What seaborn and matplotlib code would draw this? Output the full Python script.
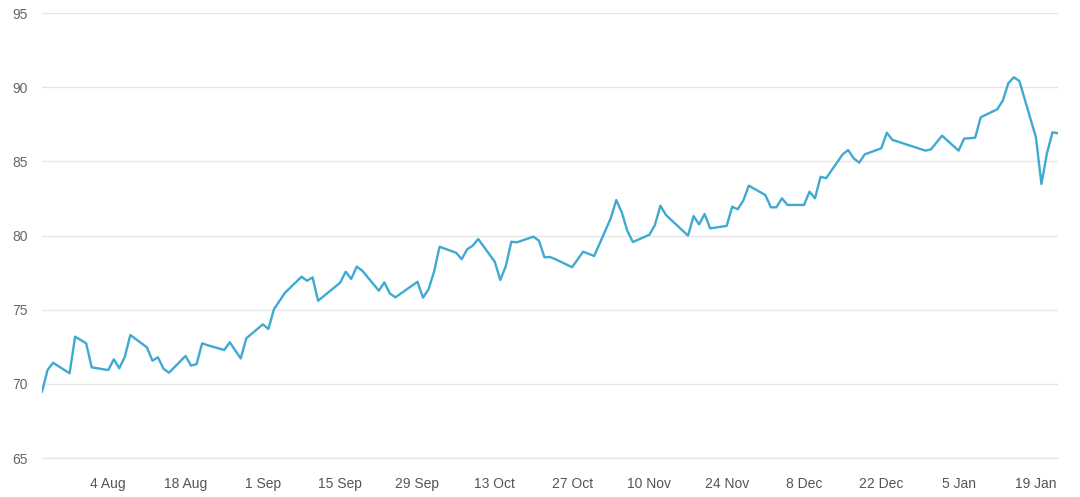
import matplotlib
matplotlib.use('Agg')
import pandas as pd
import matplotlib.pyplot as plt
import matplotlib.dates as mdates
import seaborn as sns

# trading days (vertices) and closing values
dates = [
    "2025-07-23", "2025-07-24", "2025-07-25", "2025-07-28", "2025-07-29", "2025-07-31",
    "2025-08-01", "2025-08-04", "2025-08-05", "2025-08-06", "2025-08-07", "2025-08-08",
    "2025-08-11", "2025-08-12", "2025-08-13", "2025-08-14", "2025-08-15", "2025-08-18",
    "2025-08-19", "2025-08-20", "2025-08-21", "2025-08-22", "2025-08-25", "2025-08-26",
    "2025-08-28", "2025-08-29", "2025-09-01", "2025-09-02", "2025-09-03", "2025-09-05",
    "2025-09-08", "2025-09-09", "2025-09-10", "2025-09-11", "2025-09-15", "2025-09-16",
    "2025-09-17", "2025-09-18", "2025-09-19", "2025-09-22", "2025-09-23", "2025-09-24",
    "2025-09-25", "2025-09-29", "2025-09-30", "2025-10-01", "2025-10-02", "2025-10-03",
    "2025-10-06", "2025-10-07", "2025-10-08", "2025-10-09", "2025-10-10", "2025-10-13",
    "2025-10-14", "2025-10-15", "2025-10-16", "2025-10-17", "2025-10-20", "2025-10-21",
    "2025-10-22", "2025-10-23", "2025-10-24", "2025-10-27", "2025-10-29", "2025-10-31",
    "2025-11-03", "2025-11-04", "2025-11-05", "2025-11-06", "2025-11-07", "2025-11-10",
    "2025-11-11", "2025-11-12", "2025-11-13", "2025-11-17", "2025-11-18", "2025-11-19",
    "2025-11-20", "2025-11-21", "2025-11-24", "2025-11-25", "2025-11-26", "2025-11-27",
    "2025-11-28", "2025-12-01", "2025-12-02", "2025-12-03", "2025-12-04", "2025-12-05",
    "2025-12-08", "2025-12-09", "2025-12-10", "2025-12-11", "2025-12-12", "2025-12-15",
    "2025-12-16", "2025-12-17", "2025-12-18", "2025-12-19", "2025-12-22", "2025-12-23",
    "2025-12-24", "2025-12-30", "2025-12-31", "2026-01-02", "2026-01-05", "2026-01-06",
    "2026-01-08", "2026-01-09", "2026-01-12", "2026-01-13", "2026-01-14", "2026-01-15",
    "2026-01-16", "2026-01-19", "2026-01-20", "2026-01-21", "2026-01-22", "2026-01-23",
]
values = [
    69.45, 70.93, 71.42, 70.71, 73.18, 72.73,
    71.11, 70.93, 71.65, 71.05, 71.83, 73.29,
    72.46, 71.56, 71.79, 71.02, 70.75, 71.88,
    71.22, 71.34, 72.73, 72.60, 72.28, 72.80,
    71.71, 73.07, 74.01, 73.70, 75.02, 76.14,
    77.22, 76.95, 77.18, 75.60, 76.82, 77.56,
    77.07, 77.90, 77.63, 76.28, 76.84, 76.09,
    75.83, 76.88, 75.81, 76.37, 77.56, 79.24,
    78.84, 78.40, 79.07, 79.31, 79.76, 78.23,
    77.00, 77.94, 79.58, 79.54, 79.92, 79.65,
    78.53, 78.55, 78.40, 77.86, 78.91, 78.62,
    81.16, 82.39, 81.56, 80.32, 79.56, 80.05,
    80.71, 82.01, 81.38, 79.99, 81.31, 80.75,
    81.45, 80.48, 80.65, 81.94, 81.77, 82.35,
    83.36, 82.73, 81.90, 81.90, 82.51, 82.06,
    82.06, 82.95, 82.51, 83.96, 83.86, 85.47,
    85.76, 85.20, 84.91, 85.47, 85.88, 86.93,
    86.45, 85.72, 85.81, 86.73, 85.72, 86.53,
    86.59, 87.97, 88.51, 89.09, 90.26, 90.67,
    90.42, 86.62, 83.47, 85.54, 86.96, 86.89,
]
y_ticks = [65, 70, 75, 80, 85, 90, 95]
x_ticks = ["2025-08-04", "2025-08-18", "2025-09-01", "2025-09-15", "2025-09-29",
           "2025-10-13", "2025-10-27", "2025-11-10", "2025-11-24", "2025-12-08",
           "2025-12-22", "2026-01-05", "2026-01-19"]

df = pd.DataFrame({"date": pd.to_datetime(dates), "value": values})

sns.set_style("white")
plt.rcParams['font.family'] = ['Liberation Sans', 'DejaVu Sans']

fig = plt.figure(figsize=(10.8, 4.97), dpi=100)
ax = fig.add_axes([42 / 1080, 39 / 497, 1016 / 1080, 445 / 497])

sns.lineplot(data=df, x="date", y="value", ax=ax, color="#40a9d2", linewidth=1.7)

ax.set_xlim(pd.Timestamp(dates[0]), pd.Timestamp(dates[-1]))
ax.set_ylim(65, 95)
ax.set_yticks(y_ticks)
ax.set_xticks(pd.to_datetime(x_ticks))
ax.xaxis.set_major_formatter(mdates.DateFormatter("%-d %b"))

ax.grid(axis="y", color="#e6e6e6", linewidth=1)
ax.grid(axis="x", visible=False)
ax.set_axisbelow(True)
for side in ["top", "right", "left"]:
    ax.spines[side].set_visible(False)
ax.spines["bottom"].set_color("#e6e6e6")
ax.spines["bottom"].set_linewidth(1)

ax.tick_params(axis="y", length=0, pad=10, labelsize=10, labelcolor="#666666")
ax.tick_params(axis="x", length=8, width=1, color="#e0e0e0", pad=6,
               labelsize=10, labelcolor="#555555")
ax.set_xlabel("")
ax.set_ylabel("")

fig.savefig("out.png", dpi=100)
